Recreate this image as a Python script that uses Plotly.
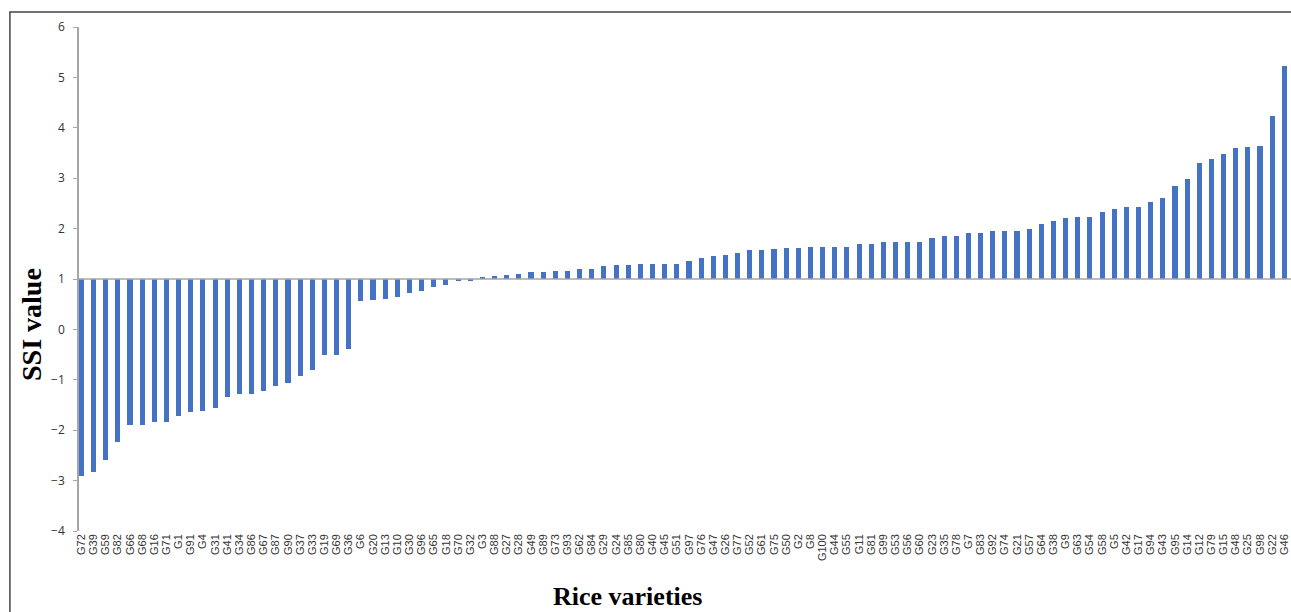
import plotly.graph_objects as go

# Сорта риса (по порядку на графике)
varieties = ['G72', 'G39', 'G59', 'G82', 'G66', 'G68', 'G16', 'G71', 'G1', 'G91',
             'G4', 'G31', 'G41', 'G34', 'G86', 'G67', 'G87', 'G90', 'G37', 'G33',
             'G19', 'G69', 'G36', 'G6', 'G20', 'G13', 'G10', 'G30', 'G96', 'G65',
             'G18', 'G70', 'G32', 'G3', 'G88', 'G27', 'G28', 'G49', 'G89', 'G73',
             'G93', 'G62', 'G84', 'G29', 'G24', 'G85', 'G80', 'G40', 'G45', 'G51',
             'G97', 'G76', 'G47', 'G26', 'G77', 'G52', 'G61', 'G75', 'G50', 'G2',
             'G8', 'G100', 'G44', 'G55', 'G11', 'G81', 'G99', 'G53', 'G56', 'G60',
             'G23', 'G35', 'G78', 'G7', 'G83', 'G92', 'G74', 'G21', 'G57', 'G64',
             'G38', 'G9', 'G63', 'G54', 'G58', 'G5', 'G42', 'G17', 'G94', 'G43',
             'G95', 'G14', 'G12', 'G79', 'G15', 'G48', 'G25', 'G98', 'G22', 'G46']

# Значения SSI
ssi = [-2.90, -2.82, -2.59, -2.23, -1.89, -1.89, -1.84, -1.84, -1.71, -1.64,
       -1.62, -1.55, -1.35, -1.29, -1.29, -1.23, -1.12, -1.06, -0.92, -0.80,
       -0.51, -0.51, -0.39, 0.56, 0.58, 0.60, 0.65, 0.73, 0.76, 0.85,
       0.89, 0.96, 0.98, 1.03, 1.05, 1.08, 1.09, 1.13, 1.13, 1.16,
       1.16, 1.19, 1.20, 1.25, 1.28, 1.28, 1.30, 1.30, 1.30, 1.30,
       1.35, 1.42, 1.45, 1.47, 1.52, 1.58, 1.58, 1.60, 1.62, 1.62,
       1.64, 1.64, 1.64, 1.64, 1.69, 1.69, 1.74, 1.74, 1.74, 1.74,
       1.81, 1.85, 1.85, 1.91, 1.91, 1.95, 1.96, 1.96, 2.00, 2.10,
       2.15, 2.22, 2.24, 2.24, 2.32, 2.39, 2.42, 2.43, 2.53, 2.60,
       2.85, 2.99, 3.31, 3.38, 3.48, 3.60, 3.62, 3.64, 4.23, 5.22]

y_ticks = [-4, -3, -2, -1, 0, 1, 2, 3, 4, 5, 6]
BASE = 1  # горизонтальная ось пересекает вертикальную в точке 1

fig = go.Figure()
fig.add_trace(go.Bar(
    x=list(range(len(varieties))),
    y=[v - BASE for v in ssi],
    base=BASE,
    width=0.42,
    marker=dict(color='#4472C4', line=dict(width=0)),
))

# Линия оси X на уровне 1
fig.add_shape(type='line', xref='paper', yref='y', x0=0, x1=1, y0=BASE, y1=BASE,
              line=dict(color='#A6A6A6', width=1.5))
# Рамка вокруг рисунка
fig.add_shape(type='rect', xref='paper', yref='paper', x0=-0.057, x1=1.02, y0=-0.2, y1=1.0298,
              line=dict(color='#444444', width=1.5))

fig.update_layout(
    width=1291, height=612,
    margin=dict(l=79, r=0, t=27, b=81),
    plot_bgcolor='white', paper_bgcolor='white',
    showlegend=False,
    bargap=0,
    xaxis=dict(
        tickmode='array',
        tickvals=list(range(len(varieties))),
        ticktext=varieties,
        tickangle=-90,
        range=[-0.2, 99.55],
        showgrid=False, zeroline=False, showline=False,
        ticks='', tickfont=dict(family='Liberation Sans', size=11, color='#333333'),
    ),
    yaxis=dict(
        range=[-4, 6],
        tickvals=y_ticks,
        showgrid=False, zeroline=False,
        showline=True, linecolor='#A6A6A6', linewidth=1.5,
        ticks='outside', ticklen=4, tickcolor='#A6A6A6',
        ticklabelstandoff=6,
        tickfont=dict(family='Open Sans', size=12, color='#333333'),
    ),
    annotations=[
        dict(text='<b>Rice varieties</b>', xref='paper', yref='paper',
             x=(627 - 79) / 1212, y=(531 - 596) / 504, showarrow=False,
             xanchor='center', yanchor='middle',
             font=dict(family='Liberation Serif', size=26, color='black')),
        dict(text='<b>SSI value</b>', xref='paper', yref='paper',
             x=(31 - 79) / 1212, y=(531 - 325) / 504, showarrow=False, textangle=-90,
             xanchor='center', yanchor='middle',
             font=dict(family='Liberation Serif', size=28, color='black')),
    ],
)

# убираем отступ body, чтобы рисунок начинался в углу окна
fig.write_html("out.html", config={'displayModeBar': False},
               post_script="document.body.style.margin='0';")
